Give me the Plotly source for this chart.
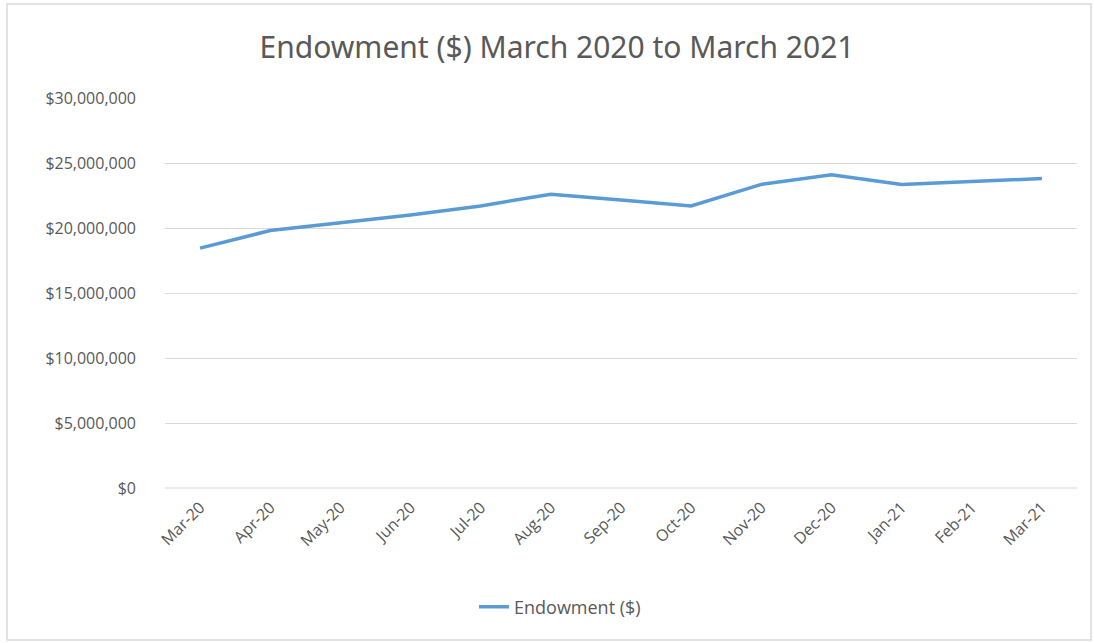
import plotly.graph_objects as go

months = ["Mar-20", "Apr-20", "May-20", "Jun-20", "Jul-20", "Aug-20", "Sep-20",
          "Oct-20", "Nov-20", "Dec-20", "Jan-21", "Feb-21", "Mar-21"]
endowment = [18450000, 19800000, 20400000, 21000000, 21700000, 22600000, 22150000,
             21700000, 23350000, 24100000, 23350000, 23600000, 23800000]
y_ticks = [0, 5000000, 10000000, 15000000, 20000000, 25000000, 30000000]
y_labels = ["$0", "$5,000,000", "$10,000,000", "$15,000,000", "$20,000,000",
            "$25,000,000", "$30,000,000"]

W, H = 1094, 643
L, R, T, B = 165, 17, 98, 155
pw, ph = W - L - R, H - T - B

def px(x):
    return (x - L) / pw

def py(y):
    return (H - B - y) / ph

fig = go.Figure()
fig.add_trace(go.Scatter(x=months, y=endowment, mode="lines", name="Endowment ($)",
                         line=dict(color="#5B9BD5", width=3.5)))

fig.update_layout(
    width=W, height=H,
    margin=dict(l=L, r=R, t=T, b=B),
    paper_bgcolor="white", plot_bgcolor="white",
    font=dict(family="Open Sans, sans-serif", color="#595959", size=16),
    title=dict(text="Endowment ($) March 2020 to March 2021", x=(557 - 0) / W, xanchor="center",
               y=1 - 47 / H, yanchor="middle",
               font=dict(size=30, color="#595959", family="Noto Sans, sans-serif")),
    xaxis=dict(type="category", range=[-0.5, 12.5], tickangle=-45, showgrid=False,
               showline=False, ticks="", ticklabelstandoff=6,
               tickfont=dict(size=16, color="#595959"), fixedrange=True),
    yaxis=dict(range=[0, 30000000], tickvals=y_ticks, ticktext=y_labels,
               showgrid=True, gridcolor="#D9D9D9", gridwidth=1, zeroline=False,
               showline=False, ticks="", ticklabelstandoff=28,
               tickfont=dict(size=16, color="#595959")),
    showlegend=True,
    legend=dict(orientation="h", x=px(560), xanchor="center", y=py(607), yanchor="middle",
                font=dict(size=18, color="#595959")),
    shapes=[dict(type="line", xref="paper", yref="paper", x0=0, x1=1, y0=0, y1=0,
                 line=dict(color="#D9D9D9", width=1)),
            dict(type="rect", xref="paper", yref="paper",
                 x0=px(7), x1=px(1091), y0=py(640), y1=py(4),
                 line=dict(color="#D9D9D9", width=1.5))],
)

fig.write_html("out.html")
